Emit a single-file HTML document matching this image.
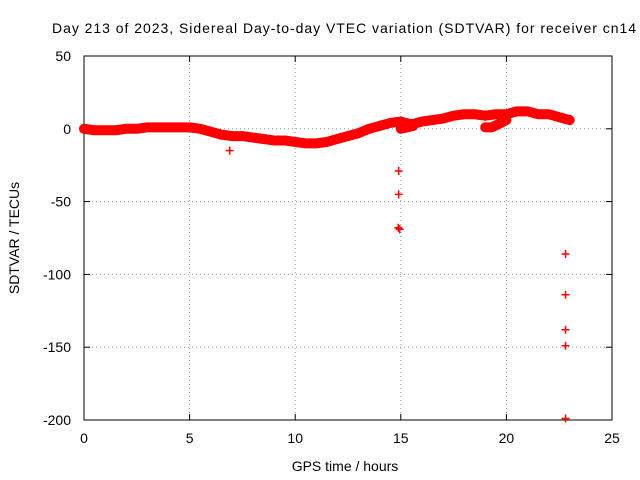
<!DOCTYPE html>
<html><head><meta charset="utf-8"><style>
body{margin:0;background:#fff}
svg{display:block;font-family:"Liberation Sans",sans-serif}
</style></head><body>
<svg id="chart" width="640" height="480" viewBox="0 0 640 480">
<rect width="640" height="480" fill="#fff"/>
<g id="grid"></g>
<rect x="84" y="56" width="528" height="364" fill="none" stroke="#000" stroke-width="1"/>
<g id="ticks"></g>
<g id="series"></g>
<text x="52" y="33" font-size="14" textLength="584" lengthAdjust="spacing">Day 213 of 2023, Sidereal Day-to-day VTEC variation (SDTVAR) for receiver cn14</text>
<text x="345" y="471" text-anchor="middle" font-size="14">GPS time / hours</text>
<text transform="translate(19,238) rotate(-90)" text-anchor="middle" font-size="14">SDTVAR / TECUs</text>
</svg>
<script>
const xTicks=[0,5,10,15,20,25];
const yTicks=[50,0,-50,-100,-150,-200];
const mainTimes=[0,0.5,1,1.5,2,2.5,3,3.5,4,4.5,5,5.5,6,6.5,7,7.5,8,8.5,9,9.5,10,10.5,11,11.5,12,12.5,13,13.5,14,14.5,15,15.5,16,16.5,17,17.5,18,18.5,19,19.5,20,20.5,21,21.5,22,22.5,23];
const mainValues=[0,-1,-1,-1,0,0,1,1,1,1,1,0,-2,-4,-5,-5,-6,-7,-8,-8,-9,-10,-10,-9,-7,-5,-3,0,2,4,5,3,5,6,7,9,10,10,9,10,10,12,12,10,10,8,6];
const lowTimes=[15,15.3,15.6,19,19.3,19.6,20];
const lowValues=[0,1,2,1,1,3,6];
const outTimes=[6.9,14.9,14.9,14.88,14.95,22.8,22.8,22.8,22.8,22.8];
const outValues=[-15,-29,-45,-68,-69,-86,-114,-138,-149,-199];
const X=v=>84+v*528/25, Y=v=>56+(50-v)*364/250;
const NS='http://www.w3.org/2000/svg';
const grid=document.getElementById('grid'),ticks=document.getElementById('ticks'),ser=document.getElementById('series');
function mk(tag,attrs,parent){const e=document.createElementNS(NS,tag);for(const k in attrs)e.setAttribute(k,attrs[k]);parent.appendChild(e);return e;}
xTicks.forEach(t=>{
 if(t>0&&t<25){const l=mk('line',{x1:X(t),x2:X(t),y1:56,y2:420,stroke:'#999','stroke-dasharray':'1,3'},grid);}
 mk('line',{x1:X(t),x2:X(t),y1:420,y2:414,stroke:'#000'},ticks);
 mk('line',{x1:X(t),x2:X(t),y1:56,y2:62,stroke:'#000'},ticks);
 const tx=mk('text',{x:X(t),y:443,'text-anchor':'middle','font-size':14},ticks);tx.textContent=t;
 
});
yTicks.forEach(t=>{
 if(t<50&&t>-200){const l=mk('line',{x1:84,x2:612,y1:Y(t),y2:Y(t),stroke:'#999','stroke-dasharray':'1,3'},grid);}
 mk('line',{x1:84,x2:90,y1:Y(t),y2:Y(t),stroke:'#000'},ticks);
 mk('line',{x1:606,x2:612,y1:Y(t),y2:Y(t),stroke:'#000'},ticks);
 const tx=mk('text',{x:71,y:Y(t)+5,'text-anchor':'end','font-size':14},ticks);tx.textContent=t;
 
});
function band(ts,vs,name){
 const p=mk('polyline',{points:ts.map((t,i)=>X(t)+','+Y(vs[i])).join(' '),fill:'none',stroke:'#f00','stroke-width':10,'stroke-linejoin':'round','stroke-linecap':'round'},ser);
 
}
band(mainTimes,mainValues,'main-band');
band(lowTimes.slice(0,3),lowValues.slice(0,3),'lower-band-15h');
band(lowTimes.slice(3),lowValues.slice(3),'lower-band-19h');
outTimes.forEach((t,i)=>{
 const x=X(t),y=Y(outValues[i]);
 const p=mk('path',{d:`M${x-4},${y}H${x+4}M${x},${y-4}V${y+4}`,stroke:'#f00','stroke-width':1.5},ser);
 
});
</script>
</body></html>
